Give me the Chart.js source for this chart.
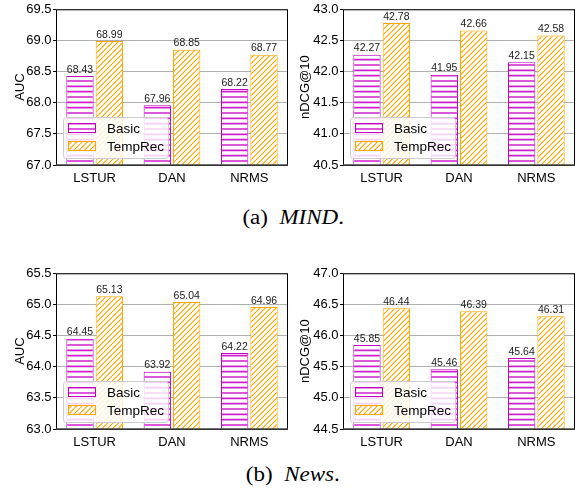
<!DOCTYPE html>
<html>
<head>
<meta charset="utf-8">
<script src="https://cdn.jsdelivr.net/npm/chart.js@4.4.1/dist/chart.umd.min.js"></script>
<style>
  body { margin: 0; background: #fff; width: 586px; height: 495px; position: relative; overflow: hidden; }
  .box { position: absolute; width: 290px; height: 190px; }
  .cap { position: absolute; left: 0; width: 586px; text-align: center;
         font-family: "Liberation Serif", "Times New Roman", serif; font-size: 20px; color: #000; }
  .cap span { display: inline-block; transform: scaleX(1.15); }
</style>
</head>
<body>
<div class="box" style="left:0;top:0"><canvas id="c1"></canvas></div>
<div class="box" style="left:290px;top:0"><canvas id="c2"></canvas></div>
<div class="cap" style="top:206px"><span>(a)&nbsp;&nbsp;<i>MIND</i>.</span></div>
<div class="box" style="left:0;top:264px"><canvas id="c3"></canvas></div>
<div class="box" style="left:290px;top:264px"><canvas id="c4"></canvas></div>
<div class="cap" style="top:463px"><span>(b)&nbsp;&nbsp;<i>News</i>.</span></div>
<script>
const models = ["LSTUR", "DAN", "NRMS"];
const seriesNames = ["Basic", "TempRec"];

const mindAucBasic = [68.43, 67.96, 68.22];
const mindAucTemp = [68.99, 68.85, 68.77];
const mindNdcgBasic = [42.27, 41.95, 42.15];
const mindNdcgTemp = [42.78, 42.66, 42.58];
const newsAucBasic = [64.45, 63.92, 64.22];
const newsAucTemp = [65.13, 65.04, 64.96];
const newsNdcgBasic = [45.85, 45.46, 45.64];
const newsNdcgTemp = [46.44, 46.39, 46.31];

const FONT = "'Liberation Sans', Arial, sans-serif";
const MAGENTA = "#c000c0";
const ORANGE = "#ffa500";

function hatchPattern(kind, color) {
  const c = document.createElement("canvas");
  c.width = 16; c.height = 16;
  const g = c.getContext("2d");
  g.fillStyle = "#fff";
  g.fillRect(0, 0, 16, 16);
  g.strokeStyle = color;
  g.beginPath();
  if (kind === "h") {
    g.lineWidth = 1.6;
    [1, 6.33, 11.67].forEach(y => { g.moveTo(0, y); g.lineTo(16, y); });
  } else {
    g.lineWidth = 1.1;
    for (let k = -16; k <= 32; k += 16 / 3) {
      g.moveTo(k - 16, 16); g.lineTo(k, 0);
      g.moveTo(k, 16); g.lineTo(k + 16, 0);
    }
  }
  g.stroke();
  return g.createPattern(c, "repeat");
}

const basicFill = hatchPattern("h", "#d020d0");
const tempFill = hatchPattern("d", ORANGE);

// frame, value labels and in-plot legend
const extras = {
  id: "extras",
  beforeDatasetsDraw(chart) {
    const a = chart.chartArea, ctx = chart.ctx;
    ctx.save();
    ctx.strokeStyle = "#000";
    ctx.lineWidth = 1;
    ctx.strokeRect(a.left + 0.5, a.top + 0.5, a.right - a.left - 1, a.bottom - a.top);
    ctx.restore();
  },
  afterDatasetsDraw(chart) {
    const a = chart.chartArea, ctx = chart.ctx;
    ctx.save();
    ctx.font = "10.5px " + FONT;
    ctx.fillStyle = "#222";
    ctx.textAlign = "center";
    ctx.textBaseline = "bottom";
    chart.data.datasets.forEach((ds, i) => {
      chart.getDatasetMeta(i).data.forEach((bar, j) => {
        ctx.fillText(ds.data[j].toFixed(2), bar.x, bar.y - 1);
      });
    });
    // bottom spine
    ctx.strokeStyle = "#444";
    ctx.lineWidth = 1.5;
    ctx.beginPath();
    ctx.moveTo(a.left, a.bottom);
    ctx.lineTo(a.right, a.bottom);
    ctx.stroke();
    // legend
    const lx = a.left + 7, ly = a.bottom - 48, lw = 105, lh = 41;
    ctx.beginPath();
    ctx.roundRect(lx + 0.5, ly + 0.5, lw, lh, 3);
    ctx.fillStyle = "rgba(255,255,255,0.8)";
    ctx.fill();
    ctx.strokeStyle = "#cccccc";
    ctx.lineWidth = 1;
    ctx.stroke();
    ctx.font = "13.5px " + FONT;
    ctx.textAlign = "left";
    ctx.textBaseline = "middle";
    chart.data.datasets.forEach((ds, i) => {
      const cy = ly + 11 + i * 18;
      ctx.fillStyle = ds.backgroundColor;
      ctx.fillRect(lx + 5, cy - 5, 28, 10);
      ctx.strokeStyle = ds.borderColor;
      ctx.strokeRect(lx + 5.5, cy - 4.5, 27, 9);
      ctx.fillStyle = "#000";
      ctx.fillText(ds.label, lx + 44, cy + 1);
    });
    ctx.restore();
  }
};

function makeChart(id, yTitle, basic, temp, yMin, yMax, yWidth, titlePad) {
  return new Chart(document.getElementById(id), {
    type: "bar",
    data: {
      labels: models,
      datasets: [
        { label: seriesNames[0], data: basic, backgroundColor: basicFill, borderColor: MAGENTA, borderWidth: 1 },
        { label: seriesNames[1], data: temp, backgroundColor: tempFill, borderColor: ORANGE, borderWidth: 1 }
      ]
    },
    options: {
      responsive: true,
      maintainAspectRatio: false,
      animation: false,
      devicePixelRatio: 1,
      layout: { padding: { left: 0, top: 7, right: 290 - yWidth - 232, bottom: 0 } },
      categoryPercentage: 0.76,
      barPercentage: 0.93,
      plugins: { legend: { display: false }, tooltip: { enabled: false } },
      scales: {
        x: {
          grid: { display: false, drawTicks: false },
          border: { display: false },
          ticks: { font: { family: FONT, size: 13 }, color: "#000", padding: 6 },
          afterFit(s) { s.height = 25; }
        },
        y: {
          min: yMin, max: yMax,
          border: { display: false },
          grid: {
            color: "#b0b0b0", borderDash: [2, 2], tickLength: 3,
            tickColor: "#000", tickBorderDash: [], tickWidth: 1
          },
          ticks: {
            stepSize: 0.5, padding: 1.5, color: "#000",
            font: { family: FONT, size: 13 },
            callback: v => v.toFixed(1)
          },
          title: { display: true, text: yTitle, color: "#000", font: { family: FONT, size: 13 }, padding: { top: titlePad, bottom: 0 } },
          afterFit(s) { s.width = yWidth; }
        }
      }
    },
    plugins: [extras]
  });
}

makeChart("c1", "AUC", mindAucBasic, mindAucTemp, 67.0, 69.5, 56, 13);
makeChart("c2", "nDCG@10", mindNdcgBasic, mindNdcgTemp, 40.5, 43.0, 53, 8);
makeChart("c3", "AUC", newsAucBasic, newsAucTemp, 63.0, 65.5, 56, 13);
makeChart("c4", "nDCG@10", newsNdcgBasic, newsNdcgTemp, 44.5, 47.0, 53, 8);
</script>
</body>
</html>
